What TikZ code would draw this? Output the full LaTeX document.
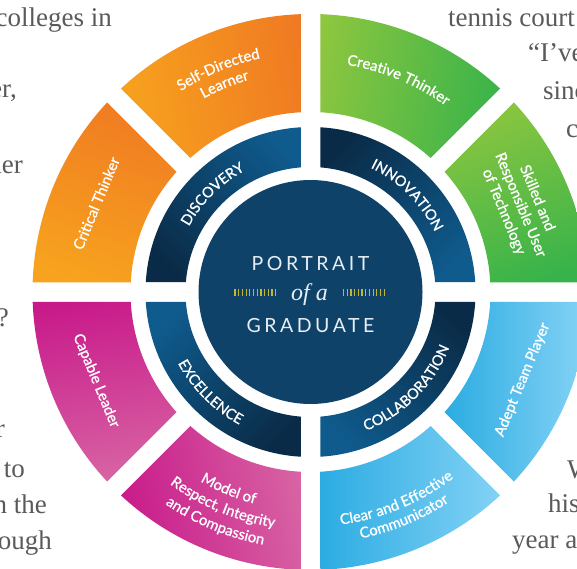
\documentclass[tikz,border=0pt]{standalone}
\usepackage{fontspec}
\setmainfont{Liberation Serif}
\newfontfamily\lblfont[FakeBold=1]{Lato}
\newfontfamily\capsfont[LetterSpace=7,FakeBold=1]{Lato}
\newfontfamily\ttlfont[LetterSpace=18]{Lato}
\usetikzlibrary{decorations.text}
\definecolor{bodygray}{HTML}{5A5A5C}
\definecolor{orgL}{HTML}{F7A31E}
\definecolor{orgD}{HTML}{F07A22}
\definecolor{grnL}{HTML}{8DC63F}
\definecolor{grnD}{HTML}{37B34A}
\definecolor{bluD}{HTML}{27AAE1}
\definecolor{bluL}{HTML}{86D3F6}
\definecolor{pnkD}{HTML}{C8198A}
\definecolor{pnkL}{HTML}{D866A4}
\definecolor{navD}{HTML}{0A2B47}
\definecolor{navL}{HTML}{0F5B8D}
\definecolor{navC}{HTML}{0E4268}
\definecolor{ttl}{HTML}{E8EEF3}
\definecolor{hatchc}{HTML}{C6B52E}

\newcommand{\wheelseg}[2]{%
  \begin{scope}
    \clip ({#1+22.5}:25.48) -- +(#1:420) -- +({#1+45}:420) -- cycle;
    \shade[#2] (#1:180) arc[start angle=#1, end angle={#1+45}, radius=180]
      -- ({#1+45}:278) arc[start angle={#1+45}, end angle=#1, radius=278] -- cycle;
  \end{scope}}
\newcommand{\ringseg}[2]{%
  \begin{scope}
    \clip ({#1+45}:13.79) -- +(#1:320) -- +({#1+45}:450) -- +({#1+90}:320) -- cycle;
    \shade[#2] (#1:125) arc[start angle=#1, end angle={#1+90}, radius=125]
      -- ({#1+90}:165) arc[start angle={#1+90}, end angle=#1, radius=165] -- cycle;
  \end{scope}}
\newcommand{\arctext}[5]{%
  \path[decorate, decoration={text along path, text align=center,
    text={|#1\color{white}|#5}}]
    (#2:#4) arc[start angle=#2, end angle=#3, radius=#4];}
\newcommand{\capsize}{\capsfont\fontsize{14.5}{17}\selectfont}
\newcommand{\lblsize}{\lblfont\fontsize{14.8}{18}\selectfont}

\tikzset{
  body/.style={font=\fontsize{27}{32}\selectfont, text=bodygray, inner sep=0pt},
  lbl/.style={font=\lblsize, text=white, inner sep=0pt, align=center},
  ttlnode/.style={font=\ttlfont\fontsize{19.5}{22}\selectfont, text=ttl, inner sep=0pt, anchor=base},
  hatchline/.style={draw=hatchc, line width=1.2pt}
}

\begin{document}
\begin{tikzpicture}[x=1pt, y=1pt]
\useasboundingbox (0,0) rectangle (577,568);
\clip (0,0) rectangle (577,568);
\fill[white] (0,0) rectangle (577,568);

% background text fragments
\node[body, anchor=base east] (l1) at (112,541) {colleges in};
\node[body, anchor=base east] (l2) at (17,470) {er,};
\node[body, anchor=base east] (l3) at (23,394) {her};
\node[body, anchor=base east] (l4) at (9,242) {?};
\node[body, anchor=base east] (l5) at (5,131) {r};
\node[body, anchor=base east] (l6) at (25,91) {to};
\node[body, anchor=base east] (l7) at (47,55) {n the};
\node[body, anchor=base east] (l8) at (52,19) {ough};
\node[body, anchor=base west] (r1) at (448,541) {tennis court};
\node[body, anchor=base west] (r2) at (528,506) {“I’ve};
\node[body, anchor=base west] (r3) at (543,468) {sinc};
\node[body, anchor=base west] (r4) at (566,430) {c};
\node[body, anchor=base west] (r5) at (567,90) {W};
\node[body, anchor=base west] (r6) at (548,56) {his};
\node[body, anchor=base west] (r7) at (512,20) {year an};

\begin{scope}[shift={(310.5,276)}]
  % outer ring
  \wheelseg{90}{top color=orgL, bottom color=orgD, shading angle=100}
  \wheelseg{135}{top color=orgL, bottom color=orgD, shading angle=160}
  \wheelseg{180}{top color=pnkL, bottom color=pnkD, shading angle=190}
  \wheelseg{225}{top color=pnkL, bottom color=pnkD, shading angle=-80}
  \wheelseg{270}{top color=bluL, bottom color=bluD, shading angle=-90}
  \wheelseg{315}{top color=bluL, bottom color=bluD, shading angle=-90}
  \wheelseg{0}{top color=grnL, bottom color=grnD, shading angle=20}
  \wheelseg{45}{top color=grnL, bottom color=grnD, shading angle=80}
  % inner ring
  \ringseg{90}{top color=navL, bottom color=navD, shading angle=-45}
  \ringseg{0}{top color=navL, bottom color=navD, shading angle=-135}
  \ringseg{270}{top color=navL, bottom color=navD, shading angle=135}
  \ringseg{180}{top color=navL, bottom color=navD, shading angle=45}
  % centre
  \fill[navC] (0,0) circle[radius=112];

  % ring labels
  \arctext{\capsize}{175}{95}{138}{DISCOVERY}
  \arctext{\capsize}{85}{5}{138}{INNOVATION}
  \arctext{\capsize}{-90}{0}{149.5}{COLLABORATION}
  \arctext{\capsize}{180}{270}{150.5}{EXCELLENCE}

  % outer curved labels
  \arctext{\lblsize}{110}{25}{230}{Creative Thinker}
  \arctext{\lblsize}{155}{70}{239}{Self-Directed}
  \arctext{\lblsize}{155}{70}{221}{Learner}
  \arctext{\lblsize}{-110}{-25}{234.5}{Clear and Effective}
  \arctext{\lblsize}{-110}{-25}{251.5}{Communicator}
  \arctext{\lblsize}{205}{290}{219}{Model of}
  \arctext{\lblsize}{205}{290}{238}{Respect, Integrity}
  \arctext{\lblsize}{205}{290}{257}{and Compassion}

  % outer straight labels
  \node[lbl, rotate=67.5] (crit) at (157.5:232) {Critical Thinker};
  \node[lbl, rotate=-67.5] (cap) at (202.5:232) {Capable Leader};
  \node[lbl, rotate=-67.5] (skill) at (22.5:227) {Skilled and\\Responsible User\\of Technology};
  \node[lbl, rotate=67.5] (adept) at (-22.5:229.5) {Adept Team Player};

  % title
  \node[ttlnode] (portrait) at (0,22) {PORTRAIT};
  \node[font=\itshape\fontsize{24}{26}\selectfont, text=ttl, inner sep=0pt, anchor=base] (ofa) at (-1,-8) {of a};
  \node[ttlnode] (graduate) at (0,-40) {GRADUATE};
  \foreach \i in {0,...,11} {
    \draw[hatchline] ({-75.5+\i*3.7},-4) -- ++(0,7);
    \draw[hatchline] ({33+\i*3.7},-4) -- ++(0,7);
  }
\end{scope}
\end{tikzpicture}
\end{document}
